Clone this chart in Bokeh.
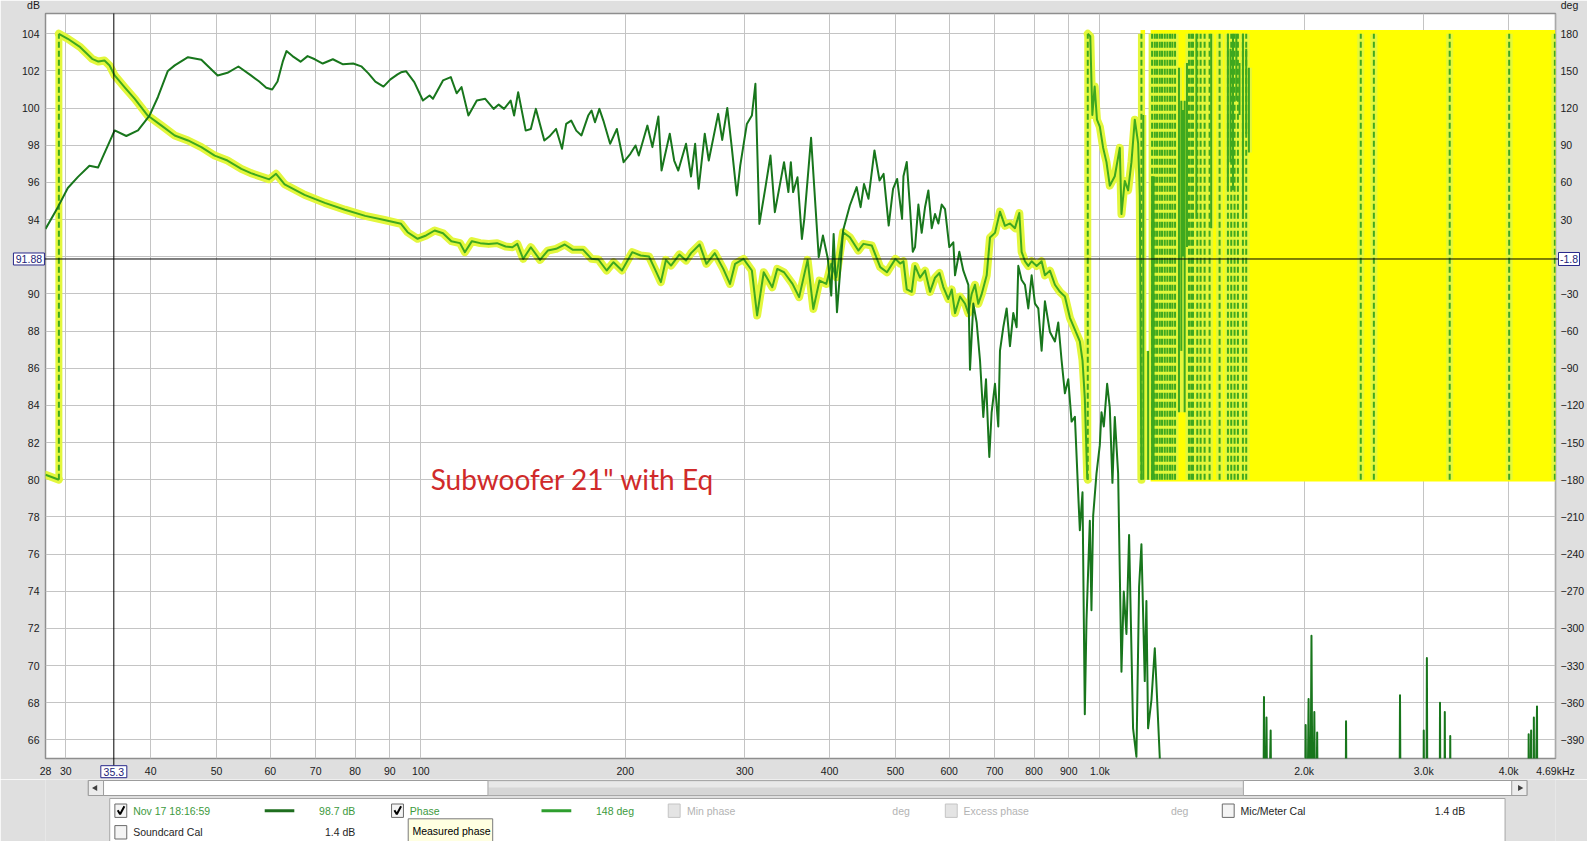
import math
from bokeh.plotting import figure
from bokeh.models import Range1d, LinearAxis, FixedTicker, Label
from bokeh.layouts import column
from bokeh.embed import file_html
from bokeh.resources import INLINE
from bokeh.core.properties import value

# ---------------- data ----------------
spl_freq = [28.0, 29.2, 30.2, 31.26, 32.5, 33.46, 34.03, 35.4, 36.83, 38.32, 39.84, 41.0, 42.4, 43.4,
            45.4, 47.5, 50.2, 51.9, 53.86, 56.2, 57.8, 59.2, 60.4, 61.5, 62.6, 63.4, 64.7, 66.5, 68.1,
            69.8, 71.7, 74.2, 76.8, 79.5, 81.7, 83.7, 85.7, 88.1, 90.2, 92.4,
            93.5, 95.1, 97.8, 100.7, 103.0, 104.2, 107.8, 110.7, 112.9, 114.8, 117.5, 120.9, 124.4, 128.0,
            130.2, 132.6, 135.6, 137.2, 139.1, 142.7, 145.2, 147.7, 152.0, 154.6, 158.2, 161.4, 163.7,
            166.5, 169.4, 172.4, 176.4, 178.4, 180.5, 183.2, 185.7, 190.0, 194.4, 198.9, 203.5, 207.1,
            209.4, 215.6, 219.3, 223.8, 226.2, 232.6, 236.1, 239.4, 245.8, 250.0, 253.5, 256.5, 261.9,
            265.5, 274.1, 277.9, 282.7, 287.0, 292.0, 295.4, 302.1, 307.3, 311.0, 315.2, 321.8, 327.3,
            332.2, 342.7, 347.8, 350.7, 353.4, 358.7, 364.1, 367.1, 375.6, 385.5, 391.0, 397.6, 402.2,
            405.5, 410.1, 413.9, 418.7, 428.4, 438.4, 444.3, 449.5, 456.3, 465.7, 473.8, 480.3, 488.7,
            496.0, 502.9, 511.4,
            513.8, 519.6, 525.5, 530.3, 534.4, 540.5, 546.6, 552.9, 559.1, 565.5, 571.9, 578.4, 584.9,
            591.6, 600.3, 608.5, 612.0, 621.0, 629.5, 640.3, 643.9, 651.2, 658.6, 666.1, 673.6, 679.8,
            685.2, 687.5, 692.9, 700.8, 708.7, 712.8, 720.9, 729.1, 737.4, 745.7, 754.2, 758.5, 767.1,
            775.8, 784.6, 793.6, 802.6, 811.7, 820.9, 830.2, 844.4, 858.8, 868.6, 878.4, 888.4, 898.5,
            908.7, 919.0, 929.2, 934.5, 943.0, 950.4, 955.9, 966.7, 972.1, 977.7, 988.8, 1000.0, 1005.7,
            1013.7, 1025.2, 1034.4, 1043.8, 1052.1, 1064.1, 1076.2, 1084.7, 1094.6, 1104.4, 1119.4,
            1132.2, 1142.5, 1151.6, 1164.7, 1171.2, 1177.9, 1191.3, 1205.0, 1225.4]
spl_db = [93.5, 94.67, 95.7, 96.3, 96.9, 96.8, 97.4, 98.8, 98.5, 98.8, 99.6, 100.6, 102.0, 102.3,
          102.74, 102.6, 101.76, 101.9, 102.24, 101.76, 101.43, 101.1, 101.0, 101.43, 102.5, 103.07, 102.8,
          102.5, 102.8, 102.63, 102.4, 102.63, 102.36, 102.4, 102.25, 101.87, 101.43, 101.16, 101.55, 101.82,
          101.93, 101.99, 101.40, 100.41, 100.68, 100.50, 101.49, 101.67, 100.80, 101.13, 99.60, 100.41,
          100.50, 99.96, 100.19, 99.96, 100.41, 99.60, 100.86, 98.79, 98.88, 99.96, 98.26, 98.47, 98.88,
          97.81, 99.15, 99.33, 98.79, 98.53, 99.60, 99.87, 99.24, 99.96, 99.33, 98.08, 98.88, 97.09, 97.54,
          97.99, 97.45, 99.06, 97.90, 99.55, 96.64, 98.62, 97.18, 96.64, 98.08, 96.32, 98.08, 95.66, 98.62,
          97.18, 99.69, 98.29, 100.01, 97.90, 95.30, 96.91, 99.15, 99.60, 101.31, 93.77, 95.75, 97.45,
          94.40, 97.09, 95.48, 97.09, 95.48, 96.28, 92.96, 94.04, 98.40, 91.98, 93.14, 91.89, 89.91,
          93.23, 89.02, 90.90, 93.41, 94.76, 95.75, 94.67, 95.92, 95.12, 97.72, 96.10, 96.46, 93.68,
          95.66, 96.19, 94.04,
          96.33, 97.10, 94.56, 92.27, 92.52, 94.81, 93.29, 94.68, 95.57, 93.54, 94.30, 93.79, 94.81,
          94.56, 92.52, 92.78, 91.00, 92.27, 91.25, 90.49, 85.92, 89.48, 88.46, 86.43, 83.38, 85.41,
          82.36, 81.22, 83.63, 85.16, 82.87, 86.94, 88.21, 89.22, 87.19, 88.97, 88.21, 91.51, 90.75,
          90.49, 89.22, 91.00, 89.48, 89.22, 86.94, 89.60, 87.95, 87.44, 88.46, 86.43, 84.65, 85.41,
          83.13, 83.38, 79.32, 77.28, 79.32, 67.38, 72.46, 77.79, 72.97, 78.05, 80.33, 81.86, 83.63,
          82.87, 85.16, 83.89, 79.83, 83.38, 80.33, 69.66, 73.98, 71.70, 77.03, 66.62,
          65.09, 74.24, 76.52, 69.16, 73.47, 66.62, 68.14, 70.93, 65.09]
# high-frequency part: mostly below the bottom of the chart, with narrow peaks
spl_hf_freq = [1240, 1740, 1745, 1750, 1760, 1768, 1785, 1792, 2005, 2010, 2018, 2030, 2040, 2050, 2060,
               2070, 2080, 2090, 2098, 2300, 2305, 2312, 2760, 2768, 2776, 2995, 3000, 3008, 3025, 3032,
               3040, 3165, 3170, 3178, 3215, 3222, 3230, 3275, 3282, 3290, 4275, 4282, 4290, 4318, 4326,
               4352, 4358, 4366, 4405, 4412, 4690]
spl_hf_db = [58, 58, 68.3, 58, 67.2, 58, 66.5, 58, 58, 66.8, 58, 68.2, 58, 71.6, 58,
             67.5, 58, 66.4, 58, 58, 67.0, 58, 58, 68.4, 58, 58, 66.5, 58, 58, 70.4,
             58, 58, 68.0, 58, 58, 67.5, 58, 58, 66.2, 58, 58, 66.3, 58, 66.5, 58,
             58, 67.2, 58, 67.8, 58, 58]

# phase (deg), split at the wraps
phase_a_freq = [28.0, 29.3]
phase_a_deg = [-176.0, -180.0]
phase_b_freq = [29.3, 30.2, 31.5, 32.8, 33.5, 34.2, 34.8, 35.4, 36.6, 37.9, 39.6, 41.5, 43.4, 45.4, 47.5,
                49.7, 51.9, 54.4, 56.2, 59.8, 61.2, 63.0, 67.4, 72.2, 77.3, 82.8, 88.7,
                93.5, 95.6, 98.9, 101.8, 104.8, 107.8, 110.9, 114.2, 116.1, 118.9, 122.3, 125.9, 129.5,
                133.3, 136.4, 138.7, 141.5, 145.2, 149.8, 153.8, 158.2, 162.9, 167.5, 173.4, 178.4, 182.6,
                187.8, 192.2, 197.8, 204.8, 210.7, 216.8, 221.1, 225.7, 229.6, 233.6, 240.3, 245.8, 250.0,
                257.4, 263.4, 271.0, 278.9, 285.3, 290.3, 298.7, 307.3, 312.8, 319.9, 329.3, 334.9, 342.7,
                352.7, 360.7, 371.2, 378.5, 386.5, 395.5, 402.2, 409.2, 418.7, 428.4, 440.9, 448.6, 461.4,
                474.9, 485.9, 500.0,
                508.1, 513.8, 519.6, 528.4, 534.4, 543.5, 552.9, 562.3, 571.9, 580.5, 588.2, 598.3, 605.2,
                612.0, 622.5, 633.2, 640.3, 647.5, 654.8, 662.3, 669.8, 681.4, 689.1, 700.8, 712.8, 724.9,
                737.4, 750.0, 761.1, 767.1, 775.8, 784.6, 793.6, 807.1, 820.9, 830.2, 844.4, 858.8, 873.5,
                888.4, 903.6, 919.0, 934.5, 943.0, 950.4, 958.3, 960.0]
phase_b_deg = [180, 176, 169.2, 159.8, 157.6, 158.4, 154.4, 146.4, 137.0, 127.5, 114.0, 105.9, 97.9, 93.9,
               88.5, 81.7, 77.7, 71.0, 67.5, 62.5, 67.0, 58.5, 50.0, 43.5, 38.0, 33.0, 29.5,
               26.6, 19.8, 14.5, 17.2, 21.2, 19.0, 12.6, 11.0, 3.7, 12.6, 11.0, 10.4, 11.0, 8.3, 7.7, 10.4,
               -1.7, 7.7, -2.5, 5.0, 6.4, 9.9, 5.6, 5.6, -1.7, -2.2, -11.1, -4.4, -11.1, 3.7, 1.0, 0.2,
               -9.8, -20.5, -2.5, -7.1, 1.8, -3.0, 2.9, 9.9, -5.7, 2.9, -9.8, -21.9, -5.7, -1.7, -11.1,
               -47.4, -12.5, -24.6, -9.8, -12.5, -21.9, -32.6, -2.5, -42.1, -19.2, -21.9, -5.7, -16.5,
               19.8, 15.8, 5.0, 10.4, 9.1, -8.4, -12.5, -1.7,
               -5.5, -3.6, -26.4, -28.3, -7.4, -16.9, -11.2, -28.3, -16.9, -13.1, -24.5, -34.1, -26.4,
               -45.5, -32.1, -37.9, -45.5, -30.2, -22.6, -37.9, -30.2, -15.0, 15.5, 19.3, 36.4, 25.0,
               26.9, 23.1, 35.3, 4.0, -3.6, -7.4, -3.6, -7.4, -3.6, -15.0, -11.2, -22.6, -28.3,
               -32.1, -49.3, -58.8, -68.3, -83.6, -114.1, -178.8, -180.0]
phase_c_freq = [960, 968.2, 975.0, 982.7, 990.4, 1000, 1011.4, 1022.9, 1034.4, 1052.1, 1070.1, 1076.2,
                1088.4, 1100.8, 1113.3, 1126.0, 1138.8, 1145.3, 1151.6]
phase_c_deg = [180, 178, 114.5, 137.4, 110.7, 105.0, 87.9, 76.4, 57.4, 65.0, 87.9, 34.5,
               61.2, 53.6, 76.4, 110.7, 91.7, 49.8, -180]
# frequencies where the phase wraps (dashed vertical lines)
phase_wrap_freq = [29.3, 960, 1151.6, 1194.0, 1205.0, 1214.3, 1225.4, 1235.0, 1246.3, 1257.6, 1269.0,
                   1279.1, 1290.7, 1353.1, 1363.8, 1371.6, 1391.8, 1407.6, 1426.8, 1451.1, 1501.2,
                   1544.2, 1561.7, 1579.4, 1597.4, 1624.6, 1643.0, 2423, 2533, 3276, 4008, 4680]
# steep phase strokes in the dense wrapping region
phase_hf_freq = [1159, 1178, 1194, 1200, 1308, 1318.5, 1326, 1333.5, 1344, 1387.5, 1459, 1544, 1558,
                 1571, 1589, 1606, 1625, 1643, 1658]
phase_hf_top = [114.5, -76, 65, 65, 152.6, 126, 118.4, 126, 156.5, 180, 180, 180, 167.9,
                180, 180, 156.5, 180, 167.9, 152.6]
phase_hf_bot = [-180, -180, -180, -180, -125.5, -76, 0.2, -125.5, 7.9, 30.7, 23.1, 53.6, 76.4,
                53.6, 126, 114.5, 30.7, 99.3, 84.1]
# spans where wraps are so dense the trace fills solid
phase_band_lo = [1148, 1188]
phase_band_hi = [1166, 4690]

x_ticks = [28, 30, 40, 50, 60, 70, 80, 90, 100, 200, 300, 400, 500, 600, 700, 800, 900,
           1000, 2000, 3000, 4000, 4689.9]
x_labels = ["28", "30", "40", "50", "60", "70", "80", "90", "100", "200", "300", "400", "500", "600",
            "700", "800", "900", "1.0k", "2.0k", "3.0k", "4.0k", "4.69kHz"]
db_grid = list(range(66, 105, 2))
db_ticks = [t for t in db_grid if t != 92]          # 92 is covered by the cursor read-out
deg_ticks = [t for t in range(-390, 181, 30) if t != 0]

cursor_freq = 35.3
cursor_db = 91.88
cursor_deg = -1.8
title_text = 'Subwoofer 21" with Eq'

legend_names = ["Nov 17 18:16:59", "Phase", "Min phase", "Excess phase", "Mic/Meter Cal", "Soundcard Cal"]
legend_values = ["98.7 dB", "148 deg", "deg", "deg", "1.4 dB", "1.4 dB"]
tooltip_text = "Measured phase"

# ---------------- styling / geometry ----------------
W, H_MAIN, H_BOT = 1587, 779, 62
FL, FR, FT, FB = 45, 30, 13, 21           # borders around the plot frame
BG = "#dfdfdf"
FONT = "Liberation Sans"
SPL_COL = "#18761c"
PH_COL = "#3fa81f"
GLOW = "#e3f73c"
BAND = "#ffff00"
NAVY = "#1d1d78"

x_lo, x_hi = 28.0, 4690.0
y_lo, y_hi = 64.995, 105.093
def db_to_deg(v):
    return 180 + (v - 104) * 15

frame_w = W - FL - FR
frame_h = H_MAIN - FT - FB
dec_px = frame_w / math.log10(x_hi / x_lo)
db_px = frame_h / (y_hi - y_lo)
def px_to_x(px):   # canvas pixel -> frequency (for placing readout boxes in the margins)
    return x_lo * 10 ** ((px - FL) / dec_px)
def py_to_y(py):
    return y_hi - (py - FT) / db_px

p = figure(width=W, height=H_MAIN, x_axis_type="log",
           x_range=Range1d(x_lo, x_hi), y_range=Range1d(y_lo, y_hi),
           output_backend="svg", toolbar_location=None,
           min_border_left=FL, min_border_right=FR, min_border_top=FT, min_border_bottom=FB)
p.extra_y_ranges = {"phase": Range1d(db_to_deg(y_lo), db_to_deg(y_hi))}
p.background_fill_color = "white"
p.border_fill_color = BG
p.outline_line_color = "#8e8e8e"
p.outline_line_width = 1.5

xa = p.xaxis[0]
xa.ticker = FixedTicker(ticks=x_ticks)
xa.major_label_overrides = {t: l for t, l in zip(x_ticks, x_labels)}
ya = p.yaxis[0]
ya.ticker = FixedTicker(ticks=db_ticks)
ra = LinearAxis(y_range_name="phase", ticker=FixedTicker(ticks=deg_ticks))
p.add_layout(ra, "right")
for ax in (xa, ya, ra):
    ax.major_tick_out = 0
    ax.major_tick_in = 0
    ax.minor_tick_out = 0
    ax.minor_tick_in = 0
    ax.axis_line_color = None
    ax.major_label_text_font = FONT
    ax.major_label_text_font_size = "10.5px"
    ax.major_label_text_color = "#1a1a1a"
xa.major_label_standoff = 6
ya.major_label_standoff = 6
ra.major_label_standoff = 5

p.xgrid.grid_line_color = "#c4c4c4"
p.ygrid.ticker = FixedTicker(ticks=db_grid)
p.ygrid.grid_line_color = "#c4c4c4"

# phase: solid band where wraps are dense
p.quad(left=phase_band_lo, right=phase_band_hi, bottom=-181.5, top=183, y_range_name="phase",
       fill_color=BAND, line_color=None)
# glow
for fx, fy in ((phase_a_freq, phase_a_deg), (phase_b_freq, phase_b_deg), (phase_c_freq, phase_c_deg)):
    p.line(fx, fy, y_range_name="phase", line_color=GLOW, line_width=8, line_join="round", line_cap="round")
p.segment(x0=phase_wrap_freq, y0=[-180] * len(phase_wrap_freq), x1=phase_wrap_freq,
          y1=[180] * len(phase_wrap_freq), y_range_name="phase", line_color=GLOW, line_width=7)
p.segment(x0=phase_hf_freq, y0=phase_hf_bot, x1=phase_hf_freq, y1=phase_hf_top,
          y_range_name="phase", line_color=GLOW, line_width=6)
# phase trace
for fx, fy in ((phase_a_freq, phase_a_deg), (phase_b_freq, phase_b_deg), (phase_c_freq, phase_c_deg)):
    p.line(fx, fy, y_range_name="phase", line_color=PH_COL, line_width=2, line_join="round")
p.segment(x0=phase_wrap_freq, y0=[-180] * len(phase_wrap_freq), x1=phase_wrap_freq,
          y1=[180] * len(phase_wrap_freq), y_range_name="phase", line_color=PH_COL, line_width=2,
          line_dash="6 3")
p.segment(x0=phase_hf_freq, y0=phase_hf_bot, x1=phase_hf_freq, y1=phase_hf_top,
          y_range_name="phase", line_color=PH_COL, line_width=2)

# SPL
p.line(spl_freq + spl_hf_freq, spl_db + spl_hf_db, line_color=SPL_COL, line_width=2, line_join="round")

# cursor cross-hair (drawn on the overlay level so it reaches the read-out boxes)
p.segment(x0=[cursor_freq, px_to_x(44)], y0=[py_to_y(13), cursor_db],
          x1=[cursor_freq, px_to_x(1560)], y1=[py_to_y(765.5), cursor_db],
          line_color="black", line_width=1, level="overlay")

# cursor read-out boxes in the margins
box_x = [px_to_x(28.4), cursor_freq, px_to_x(1570.5)]
box_y = [cursor_db, py_to_y(771.2), cursor_db]
box_w = [31, 26, 21]
p.rect(x=box_x, y=box_y, width=box_w, height=[12, 12, 13], width_units="screen", height_units="screen",
       fill_color="white", line_color="#27278a", line_width=1, level="overlay")
p.text(x=box_x, y=box_y, text=[f"{cursor_db:.2f}", f"{cursor_freq:.1f}", f"{cursor_deg:.1f}"],
       text_align="center", text_baseline="middle", text_font=value(FONT),
       text_font_size=value("10.5px"), text_color=NAVY, level="overlay")
# axis unit captions
p.text(x=[px_to_x(33), px_to_x(1571)], y=[py_to_y(4.5), py_to_y(4.5)], text=["dB", "deg"],
       text_align="center", text_baseline="middle", text_font=value(FONT),
       text_font_size=value("10.5px"), text_color="#1a1a1a", level="overlay")

p.add_layout(Label(x=103.4, y=80.05, text=title_text, text_align="left", text_baseline="alphabetic",
                   text_font="Lato", text_font_size="28px", text_color="#d02a2a"))

# ---------------- bottom strip: scrollbar + legend panel ----------------
b = figure(width=W, height=H_BOT, x_range=Range1d(0, W), y_range=Range1d(H_MAIN + H_BOT, H_MAIN),
           output_backend="svg", toolbar_location=None, min_border=0,
           x_axis_location=None, y_axis_location=None)
b.grid.visible = False
b.outline_line_color = None
b.background_fill_color = BG
b.border_fill_color = BG

# scrollbar
b.quad(left=[45], right=[1557], top=[780], bottom=[795], fill_color="white", line_color="#9c9c9c")
b.quad(left=[465], right=[1259], top=[780], bottom=[795], fill_color="#d6d6d6", line_color="#a8a8a8")
b.quad(left=[466], right=[1258], top=[781], bottom=[787], fill_color="#e8e8e8", line_color=None)
b.quad(left=[45, 1541], right=[61, 1557], top=[780, 780], bottom=[795, 795], fill_color="#ececec",
       line_color="#9c9c9c")
b.scatter(x=[52.5], y=[787.5], marker="triangle", size=6, angle=math.pi / 2, fill_color="#404040",
          line_color=None)
b.scatter(x=[1549.5], y=[787.5], marker="triangle", size=6, angle=-math.pi / 2, fill_color="#404040",
          line_color=None)

# legend panel
b.quad(left=[67.5], right=[1534], top=[798], bottom=[850], fill_color="white", line_color="#a6a6a6")
r1, r2 = 810.2, 831.8
cb_x = [72.9, 363.7, 654.5, 945.7, 1236.8, 72.9]
cb_y = [r1, r1, r1, r1, r1, r2]
cb_fill = ["#f4f4f4", "#f4f4f4", "#e4e4e4", "#e4e4e4", "#f4f4f4", "#f4f4f4"]
cb_line = ["#6a6a6a", "#6a6a6a", "#c4c4c4", "#c4c4c4", "#6a6a6a", "#6a6a6a"]
b.quad(left=cb_x, right=[x + 12.5 for x in cb_x], top=[y - 6.7 for y in cb_y],
       bottom=[y + 6.7 for y in cb_y], fill_color=cb_fill, line_color=cb_line)
b.multi_line(xs=[[x + 3, x + 5.5, x + 10] for x in cb_x[:2]],
             ys=[[r1 - 0.5, r1 + 3.5, r1 - 4.5] for _ in cb_x[:2]], line_color="black", line_width=2)

green_t = "#3d9a3d"
gray_t = "#b3b3b3"
black_t = "#1e1e1e"
txt_x = [92.1, 382.9, 674.1, 964.9, 1256, 92.1]
txt_y = [r1, r1, r1, r1, r1, r2]
txt_c = [green_t, green_t, gray_t, gray_t, black_t, black_t]
b.text(x=txt_x, y=txt_y, text=legend_names, text_color=txt_c, text_font=value(FONT),
       text_font_size=value("10.5px"), text_baseline="middle", text_align="left")
val_x = [325.6, 578.6, 890, 1182.8, 1460.2, 325.6]
val_align = ["right", "left", "left", "left", "left", "right"]
b.text(x=val_x, y=txt_y, text=legend_values, text_color=txt_c, text_font=value(FONT),
       text_font_size=value("10.5px"), text_baseline="middle", text_align=val_align)
b.segment(x0=[230.4, 521.3], y0=[r1, r1], x1=[261.5, 552.6], y1=[r1, r1],
          line_color=["#1e6e1e", "#2e9e2e"], line_width=3)

# tooltip
b.quad(left=[381.2], right=[470], top=[818.3], bottom=[850], fill_color="#ffffe1", line_color="#7a7a7a")
b.text(x=[385.6], y=[830.7], text=[tooltip_text], text_color="black", text_font=value(FONT),
       text_font_size=value("10.5px"), text_baseline="middle", text_align="left")

layout = column(p, b)
open("out.html", "w").write(file_html(layout, INLINE))
